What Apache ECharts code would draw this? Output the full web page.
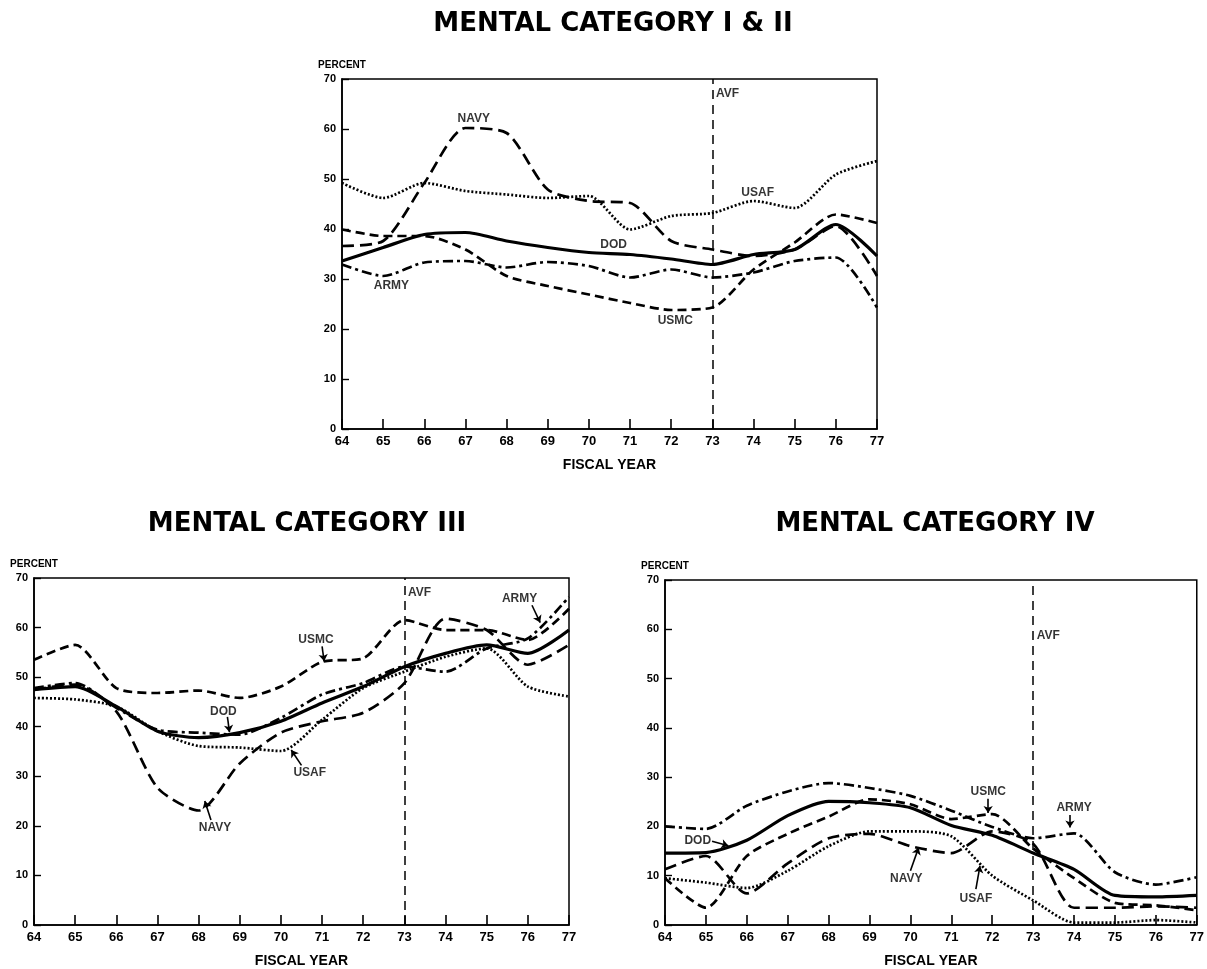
<!DOCTYPE html>
<html>
<head>
<meta charset="utf-8">
<script src="https://cdn.jsdelivr.net/npm/echarts@6/dist/echarts.min.js"></script>
<style>
html,body{margin:0;padding:0;background:#fff}
#main{width:1207px;height:969px}
</style>
</head>
<body>
<div id="main"></div>
<script>
// fiscal years 64..77
var years = [64, 65, 66, 67, 68, 69, 70, 71, 72, 73, 74, 75, 76, 77];
var avfYear = 73;

// mental category I & II (percent)
var dod12  = [33.6, 36.3, 38.9, 39.3, 37.6, 36.3, 35.3, 34.9, 34.0, 32.9, 34.9, 35.9, 40.9, 34.6];
var army12 = [32.9, 30.6, 33.3, 33.6, 32.3, 33.4, 32.6, 30.3, 31.9, 30.3, 31.3, 33.6, 34.3, 24.3];
var navy12 = [36.6, 37.6, 49.2, 60.2, 59.2, 47.9, 45.6, 45.2, 37.6, 35.9, 34.6, 35.9, 40.6, 30.6];
var usmc12 = [39.9, 38.6, 38.6, 35.9, 30.6, 28.6, 26.9, 25.2, 23.8, 24.3, 31.9, 37.3, 42.9, 41.2];
var usaf12 = [49.2, 46.2, 49.2, 47.6, 46.9, 46.2, 46.6, 39.9, 42.6, 43.2, 45.6, 44.2, 50.9, 53.6];

// mental category III
var dod3  = [47.5, 48.1, 44.1, 39.1, 37.8, 38.8, 41.1, 44.8, 48.1, 52.1, 54.8, 56.5, 54.8, 59.5];
var army3 = [47.8, 48.8, 43.8, 39.4, 38.8, 38.4, 41.8, 46.5, 48.8, 52.1, 51.1, 55.8, 57.8, 66.2];
var navy3 = [47.5, 48.5, 43.1, 27.7, 23.1, 32.6, 38.8, 41.1, 42.8, 48.8, 61.8, 59.5, 52.5, 56.5];
var usmc3 = [53.5, 56.5, 47.8, 46.8, 47.3, 45.8, 48.1, 53.1, 53.8, 61.5, 59.5, 59.5, 57.5, 63.8];
var usaf3 = [45.8, 45.5, 44.1, 39.1, 36.1, 35.8, 35.1, 41.4, 47.8, 51.1, 54.1, 55.8, 48.1, 46.1];

// mental category IV
var dod4  = [14.6, 14.7, 17.2, 22.2, 25.1, 24.8, 23.8, 20.2, 18.2, 14.6, 11.3, 6.0, 5.7, 6.0];
var army4 = [20.0, 19.5, 24.2, 27.1, 28.8, 27.8, 26.2, 23.2, 19.9, 17.6, 18.6, 10.7, 8.2, 9.7];
var navy4 = [11.3, 14.0, 6.4, 12.5, 17.6, 18.5, 16.0, 14.6, 19.0, 16.5, 3.5, 3.5, 3.8, 3.5];
var usmc4 = [9.5, 3.5, 14.0, 18.5, 22.0, 25.5, 24.5, 21.5, 22.5, 15.5, 9.5, 4.5, 4.0, 3.0];
var usaf4 = [9.5, 8.6, 7.5, 11.0, 16.0, 19.0, 19.0, 18.0, 10.0, 5.0, 0.5, 0.5, 1.0, 0.5];

// line labels: [name, year, percent]
var labels12 = [['NAVY', 67.2, 62], ['USAF', 74.1, 47.3], ['DOD', 70.6, 36.8], ['ARMY', 65.2, 28.7], ['USMC', 72.1, 21.7]];
var labels3 = [['USMC', 70.85, 57.5], ['DOD', 68.6, 43.1], ['USAF', 70.7, 30.7], ['NAVY', 68.4, 19.7], ['ARMY', 75.8, 65.8]];
var labels4 = [['DOD', 64.8, 17.1], ['USMC', 71.9, 27.1], ['ARMY', 74.0, 23.8], ['NAVY', 69.9, 9.3], ['USAF', 71.6, 5.3]];
var avfAt = [67, 67, 58.7];

// pointer arrows: [fromYear, fromPct, toYear, toPct]
var arrows3 = [[71.0, 56.2, 71.05, 53.2], [68.7, 42.0, 68.75, 38.9], [70.5, 32.2, 70.25, 35.3], [68.3, 21.2, 68.15, 25.0], [76.1, 64.5, 76.3, 61.0]];
var arrows4 = [[65.15, 17.0, 65.55, 16.1], [71.9, 25.6, 71.9, 22.7], [73.9, 22.3, 73.9, 19.8], [70.0, 11.0, 70.2, 15.7], [71.6, 7.3, 71.7, 12.0]];

var font = 'Liberation Sans, Arial, sans-serif';

var styles = {
    DOD:  {type: 'solid', width: 3.2},
    ARMY: {type: [10, 4, 3, 4], width: 2.7},
    NAVY: {type: [12, 6], width: 2.7},
    USMC: {type: [9, 5], width: 2.7},
    USAF: {type: [2, 2], width: 2.7}
};

function pairs(vals) {
    return vals.map(function (v, i) { return [years[i], v]; });
}

function lineSeries(name, vals, g) {
    var ls = styles[name];
    return {
        type: 'line', name: name, xAxisIndex: g, yAxisIndex: g,
        data: pairs(vals), showSymbol: false, smooth: 0.25,
        lineStyle: {color: '#000', width: ls.width, type: ls.type, cap: 'butt'},
        silent: true, z: name == 'DOD' ? 4 : 3
    };
}

function labelSeries(list, g, arrows) {
    var s = {
        type: 'scatter', xAxisIndex: g, yAxisIndex: g, symbolSize: 1,
        itemStyle: {color: 'rgba(0,0,0,0)'},
        data: list.map(function (l) { return {name: l[0], value: [l[1], l[2]]}; }),
        label: {show: true, position: 'inside', formatter: '{b}', color: '#000',
            fontFamily: font, fontWeight: 'bold', fontSize: 12},
        silent: true, z: 6
    };
    if (arrows) {
        s.markLine = {
            silent: true, symbol: ['none', 'arrow'], symbolSize: 7,
            lineStyle: {color: '#000', width: 1.6, type: 'solid'},
            label: {show: false},
            data: arrows.map(function (a) { return [{coord: [a[0], a[1]]}, {coord: [a[2], a[3]]}]; })
        };
    }
    return s;
}

function avfSeries(g) {
    return {
        type: 'scatter', xAxisIndex: g, yAxisIndex: g, symbolSize: 1,
        itemStyle: {color: 'rgba(0,0,0,0)'},
        data: [{name: 'AVF', value: [avfYear, avfAt[g]]}],
        label: {show: true, position: 'right', distance: 3, formatter: '{b}', color: '#000',
            fontFamily: font, fontWeight: 'bold', fontSize: 12},
        markLine: {
            silent: true, symbol: 'none',
            lineStyle: {color: '#000', width: 1.5, type: [9, 6]},
            label: {show: false},
            data: [{xAxis: avfYear}]
        },
        silent: true, z: 5
    };
}

function xAxisFor(g) {
    return {
        gridIndex: g, type: 'value', min: 64, max: 77, interval: 1,
        axisLine: {lineStyle: {color: '#000', width: 1.6}},
        axisTick: {inside: true, length: 10, lineStyle: {color: '#000', width: 1.6}},
        splitLine: {show: false},
        axisLabel: {margin: 6, color: '#000', fontFamily: font, fontWeight: 'bold', fontSize: 13},
        name: 'FISCAL YEAR', nameLocation: 'middle', nameGap: 29,
        nameTextStyle: {color: '#000', fontFamily: font, fontWeight: 'bold', fontSize: 14}
    };
}

function yAxisFor(g) {
    return {
        gridIndex: g, type: 'value', min: 0, max: 70, interval: 10,
        axisLine: {show: true, lineStyle: {color: '#000', width: 1.6}},
        axisTick: {show: true, inside: true, length: 7, lineStyle: {color: '#000', width: 1.4}},
        splitLine: {show: false},
        axisLabel: {margin: 6, color: '#000', fontFamily: font, fontWeight: 'bold', fontSize: 11},
        name: 'PERCENT', nameLocation: 'end', nameGap: 9,
        nameTextStyle: {color: '#000', fontFamily: font, fontWeight: 'bold', fontSize: 10, align: 'center'}
    };
}

var titleStyle = {color: '#000', fontFamily: 'DejaVu Sans, sans-serif', fontWeight: 'bold', fontSize: 26};

var chart = echarts.init(document.getElementById('main'));
var option = {
    backgroundColor: '#fff',
    animation: false,
    title: [
        {text: 'MENTAL CATEGORY I & II', left: 608, top: 6, textAlign: 'center', textStyle: titleStyle},
        {text: 'MENTAL CATEGORY III', left: 302, top: 506, textAlign: 'center', textStyle: titleStyle},
        {text: 'MENTAL CATEGORY IV', left: 930, top: 506, textAlign: 'center', textStyle: titleStyle}
    ],
    grid: [
        {left: 342, top: 79, width: 535, height: 350, show: true, borderColor: '#000', borderWidth: 1.5},
        {left: 34, top: 578, width: 535, height: 350, show: true, borderColor: '#000', borderWidth: 1.5},
        {left: 665, top: 580, width: 539, height: 347, show: true, borderColor: '#000', borderWidth: 1.5}
    ],
    xAxis: [xAxisFor(0), xAxisFor(1), xAxisFor(2)],
    yAxis: [yAxisFor(0), yAxisFor(1), yAxisFor(2)],
    series: [
        lineSeries('USAF', usaf12, 0), lineSeries('USMC', usmc12, 0), lineSeries('NAVY', navy12, 0),
        lineSeries('ARMY', army12, 0), lineSeries('DOD', dod12, 0),
        labelSeries(labels12, 0), avfSeries(0),

        lineSeries('USAF', usaf3, 1), lineSeries('USMC', usmc3, 1), lineSeries('NAVY', navy3, 1),
        lineSeries('ARMY', army3, 1), lineSeries('DOD', dod3, 1),
        labelSeries(labels3, 1, arrows3), avfSeries(1),

        lineSeries('USAF', usaf4, 2), lineSeries('USMC', usmc4, 2), lineSeries('NAVY', navy4, 2),
        lineSeries('ARMY', army4, 2), lineSeries('DOD', dod4, 2),
        labelSeries(labels4, 2, arrows4), avfSeries(2)
    ]
};
chart.setOption(option);
</script>
</body>
</html>
